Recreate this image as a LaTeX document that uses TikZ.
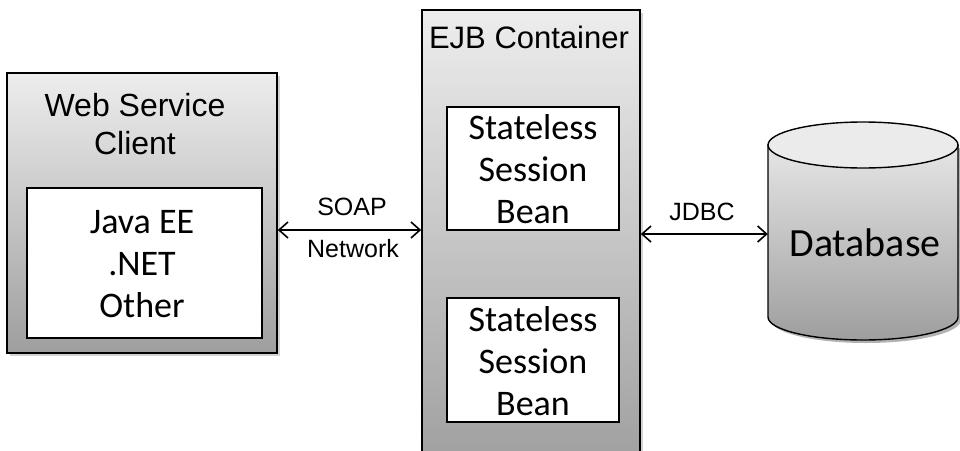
\documentclass[tikz,border=0pt]{standalone}
\usepackage{fontspec}
\setmainfont{Carlito}
\newfontfamily\arialf{Liberation Sans}
\usetikzlibrary{arrows.meta,shadows,calc}
\begin{document}
\begin{tikzpicture}[x=1pt,y=-1pt,
  outerbox/.style={draw=black, line width=1.6pt, top color=black!7, bottom color=black!38,
    drop shadow={shadow xshift=3pt, shadow yshift=-3pt, opacity=.35}},
  innerbox/.style={draw=black, line width=1.6pt, fill=white},
  link/.style={line width=1.6pt, {Straight Barb[length=9pt,width=16pt]}-{Straight Barb[length=9pt,width=16pt]}},
  titletext/.style={font=\arialf\fontsize{32}{38}\selectfont, align=center, inner sep=0pt},
  bodytext/.style={font=\fontsize{36}{42}\selectfont, align=center, inner sep=0pt},
  lbl/.style={font=\arialf\fontsize{25}{30}\selectfont, inner sep=0pt}]
\useasboundingbox (0,0) rectangle (960,450);

% Web service client
\node[outerbox, minimum width=270pt, minimum height=280pt] (client) at (142,213) {};
\node[innerbox, minimum width=235pt, minimum height=150pt] (clientin) at (144.5,263) {};
\node[titletext] (clienttitle) at (135,124) {Web Service\\Client};
\node[bodytext] (clienttext) at (142,264) {Java EE\\.NET\\Other};

% EJB container
\node[outerbox, minimum width=218pt, minimum height=460pt] (ejb) at (531,240) {};
\node[titletext, font=\arialf\fontsize{31}{36}\selectfont] (ejbtitle) at (529,37) {EJB Container};
\node[innerbox, minimum width=172pt, minimum height=123pt] (bean1) at (533,168.5) {};
\node[bodytext] (bean1text) at (533,169) {Stateless\\Session\\Bean};
\node[innerbox, minimum width=172pt, minimum height=124pt] (bean2) at (533,360) {};
\node[bodytext] (bean2text) at (533,361) {Stateless\\Session\\Bean};

% Database cylinder
\fill[black, opacity=.3] (771,148) -- (771,320) arc[start angle=180, end angle=360, x radius=95pt, y radius=23pt] -- (961,148) -- cycle;
\draw[line width=1.4pt, top color=black!10, bottom color=black!38]
  (768,145) -- (768,317) arc[start angle=180, end angle=360, x radius=95pt, y radius=23pt] -- (958,145) -- cycle;
\draw[line width=1.4pt, fill=black!8] (863,145) ellipse[x radius=95pt, y radius=23pt];
\node[minimum width=190pt, minimum height=218pt, inner sep=0pt] (db) at (863,231) {};
\node[bodytext, font=\fontsize{40}{46}\selectfont] (dbtext) at (865,243) {Database};

% connectors
\draw[link] ([yshift=-17pt]client.east) -- ([yshift=-17pt]client.east -| ejb.west);
\node[lbl] (soap) at (352,207) {SOAP};
\node[lbl] (network) at (353,249) {Network};
\draw[link] ([yshift=-3pt]db.west -| ejb.east) -- ([yshift=-3pt]db.west);
\node[lbl] (jdbc) at (702,212) {JDBC};
\end{tikzpicture}
\end{document}
